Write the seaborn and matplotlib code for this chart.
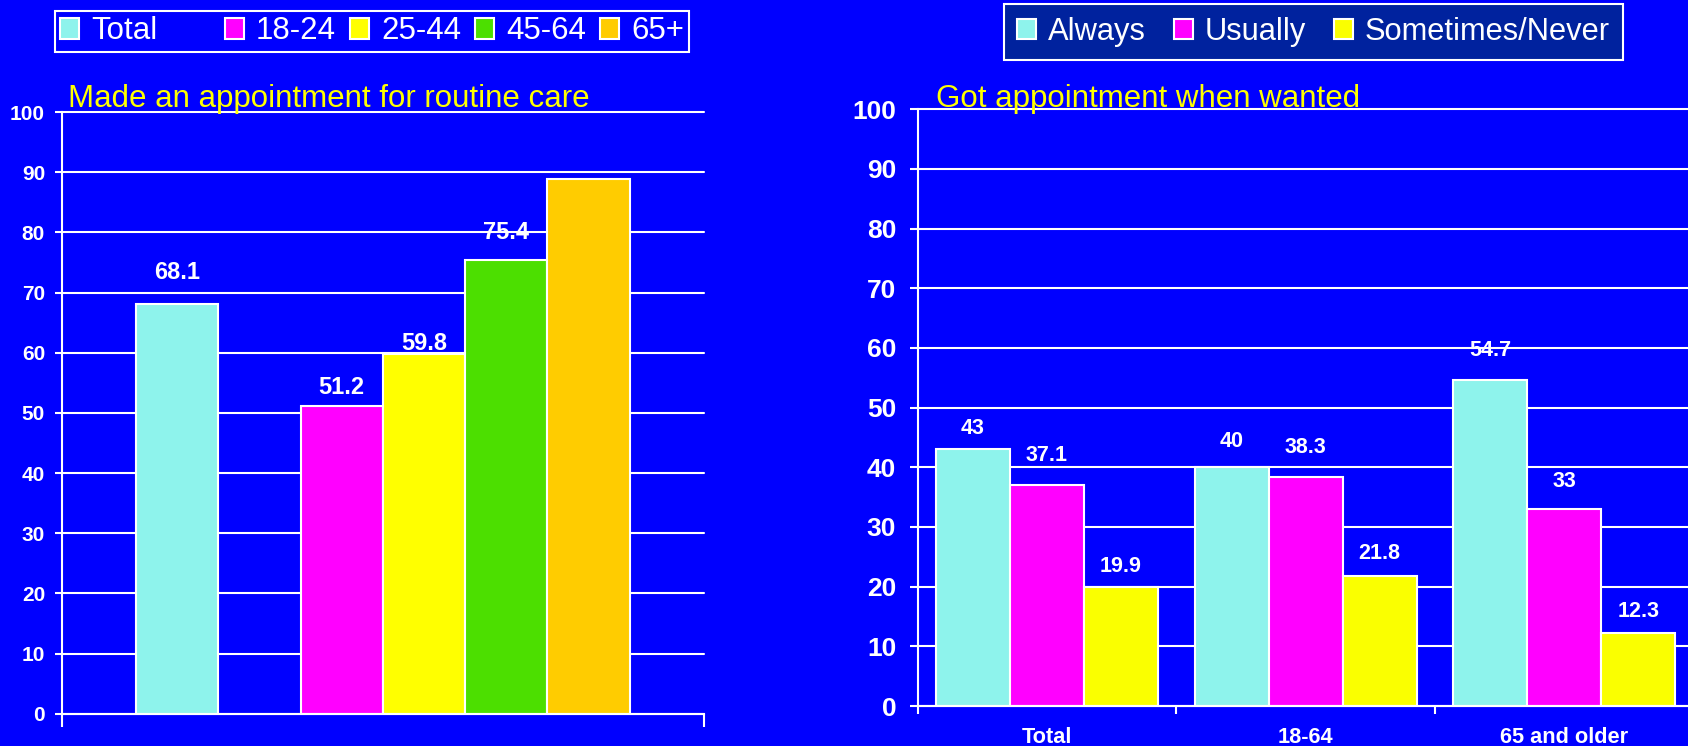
import matplotlib
matplotlib.use("Agg")
import matplotlib.pyplot as plt
import matplotlib.patches as mpatches
import pandas as pd
import seaborn as sns

# ---------------- data ----------------
left_title = "Made an appointment for routine care"
left_series = ["Total", "18-24", "25-44", "45-64", "65+"]
left_values = [68.1, 51.2, 59.8, 75.4, 88.8]

right_title = "Got appointment when wanted"
right_groups = ["Total", "18-64", "65 and older"]
right_series = ["Always", "Usually", "Sometimes/Never"]
always_values = [43, 40, 54.7]
usually_values = [37.1, 38.3, 33]
sometimes_values = [19.9, 21.8, 12.3]

y_ticks = [0, 10, 20, 30, 40, 50, 60, 70, 80, 90, 100]

# ---------------- style ----------------
BG = "#0000FF"
LEGEND_BG = "#00229E"
left_colors = ["#8EF3EC", "#FF00FF", "#FFFF00", "#4CDF00", "#FFCC00"]
right_colors = ["#8EF3EC", "#FF00FF", "#FAFF00"]
left_label_offsets = [5.3, 2.5, 3.0, 1.7, 4.5]
right_label_offsets = [[3.5, 4.4, 4.8], [4.9, 5.1, 4.7], [3.55, 3.7, 3.5]]

sns.set_style("white")
plt.rcParams["font.family"] = ["Liberation Sans", "DejaVu Sans"]

W, H = 1688, 746
fig = plt.figure(figsize=(W / 100, H / 100), dpi=100, facecolor=BG)
axL = fig.add_axes([61.7 / W, (H - 713.7) / H, 642.3 / W, 601.7 / H])
axR = fig.add_axes([917.7 / W, (H - 706.0) / H, 775.8 / W, 596.7 / H])

# ---------------- left chart ----------------
GAP = " "
left_df = pd.DataFrame({"panel": [left_title] * len(left_series),
                        "series": left_series, "value": left_values})
left_order = [left_series[0], GAP] + left_series[1:]
left_pal = dict(zip(left_series, left_colors))
left_pal[GAP] = BG
sns.barplot(data=left_df, x="panel", y="value", hue="series", hue_order=left_order,
            palette=left_pal, width=0.769, saturation=1, edgecolor="white",
            linewidth=1.5, errorbar=None, legend=False, ax=axL)

# ---------------- right chart ----------------
right_df = pd.DataFrame({
    "group": right_groups * 3,
    "series": [s for s in right_series for _ in right_groups],
    "value": always_values + usually_values + sometimes_values,
})
right_pal = dict(zip(right_series, right_colors))
sns.barplot(data=right_df, x="group", y="value", hue="series", hue_order=right_series,
            order=right_groups, palette=right_pal, width=0.8585, saturation=1,
            edgecolor="white", linewidth=1.5, errorbar=None, legend=False, ax=axR)


def style_axes(ax, tick_size, tick_len, pad):
    ax.set_facecolor(BG)
    ax.set_ylim(0, 100)
    ax.set_yticks(y_ticks)
    ax.set_yticklabels([str(t) for t in y_ticks], fontsize=tick_size,
                       fontweight="bold", color="white")
    ax.tick_params(axis="y", direction="out", length=tick_len, width=1.5,
                   color="white", pad=pad, left=True)
    ax.grid(axis="y", color="white", linewidth=1.5)
    ax.grid(axis="x", visible=False)
    ax.set_axisbelow(True)
    for s in ["top", "right"]:
        ax.spines[s].set_visible(False)
    for s in ["left", "bottom"]:
        ax.spines[s].set_color("white")
        ax.spines[s].set_linewidth(1.5)
    ax.set_xlabel("")
    ax.set_ylabel("")
    for gl in ax.get_ygridlines():
        gl.set_clip_on(False)


style_axes(axL, 15, 5, 7)
style_axes(axR, 19, 5.5, 10)

axL.set_xlim(-0.5, 0.5)
axL.set_xticks([-0.5, 0.5])
axL.set_xticklabels(["", ""])
axL.tick_params(axis="x", direction="out", length=9.4, width=1.5, color="white", bottom=True)

axR.set_xlim(-0.5, 2.5)
axR.set_xticks(range(len(right_groups)))
axR.set_xticklabels(right_groups, fontsize=15.7, fontweight="bold", color="white")
axR.tick_params(axis="x", which="major", length=0, pad=15)
axR.set_xticks([-0.5, 0.5, 1.5, 2.5], minor=True)
axR.tick_params(axis="x", which="minor", direction="out", length=5.5, width=1.5,
                color="white", bottom=True)

# value labels
for cont, off in zip(axL.containers, left_label_offsets):
    for bar in cont:
        h = bar.get_height()
        axL.text(bar.get_x() + bar.get_width() / 2, h + off, f"{h:g}", ha="center",
                 va="center", fontsize=17, fontweight="bold", color="white")
for cont, offs in zip(axR.containers, right_label_offsets):
    for bar, off in zip(cont, offs):
        h = bar.get_height()
        axR.text(bar.get_x() + bar.get_width() / 2, h + off, f"{h:g}", ha="center",
                 va="center", fontsize=15.5, fontweight="bold", color="white")

# panel titles
axL.text(0.0098, 1.0088, left_title, transform=axL.transAxes, fontsize=22.5,
         color="#FFFF00", ha="left", va="baseline")
axR.text(0.024, 1.0044, right_title, transform=axR.transAxes, fontsize=22.5,
         color="#FFFF00", ha="left", va="baseline")

# legends
hL = []
labL = []
for name in left_order:
    if name == GAP:
        hL.append(mpatches.Patch(facecolor="none", edgecolor="none"))
        labL.append(" ")
    else:
        hL.append(mpatches.Patch(facecolor=left_pal[name], edgecolor="white", linewidth=1.5))
        labL.append(name)
legL = fig.legend(hL, labL, loc="upper left", bbox_to_anchor=(55 / W, 1 - 11 / H),
                  bbox_transform=fig.transFigure, ncol=6, fontsize=22.5, frameon=True,
                  fancybox=False, facecolor=BG, edgecolor="white", framealpha=1,
                  handlelength=0.6, handleheight=0.65, handletextpad=0.39,
                  columnspacing=0.45, borderpad=0.17, borderaxespad=0, labelcolor="white")
legL.get_frame().set_linewidth(1.5)

hR = [mpatches.Patch(facecolor=right_pal[s], edgecolor="white", linewidth=1.5)
      for s in right_series]
legR = fig.legend(hR, right_series, loc="upper left", bbox_to_anchor=(1004 / W, 1 - 4 / H),
                  bbox_transform=fig.transFigure, ncol=3, fontsize=22.2, frameon=True,
                  fancybox=False, facecolor=LEGEND_BG, edgecolor="white", framealpha=1,
                  handlelength=0.62, handleheight=0.62, handletextpad=0.37,
                  columnspacing=0.92, borderpad=0.42, borderaxespad=0, labelcolor="white")
legR.get_frame().set_linewidth(1.5)

fig.savefig("out.png", dpi=100, facecolor=BG)
